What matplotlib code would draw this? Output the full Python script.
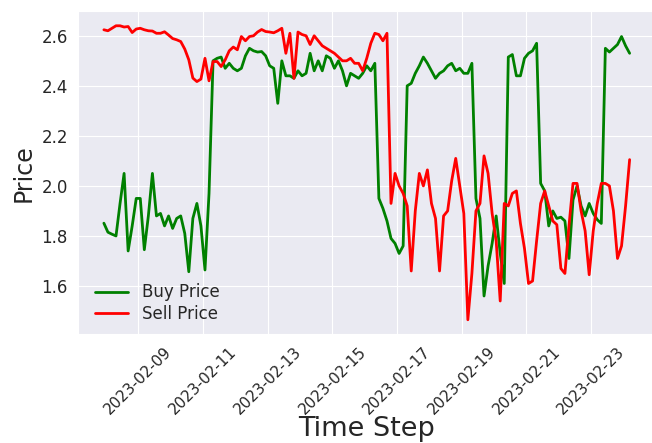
import matplotlib
matplotlib.use('Agg')
import matplotlib.pyplot as plt
import matplotlib.dates as mdates
import numpy as np
import pandas as pd
import seaborn as sns

sns.set_style('darkgrid')

# 3-hourly samples
start = '2023-02-07 22:30'
step = '3h'

buy_price = [1.851, 1.815, 1.807, 1.800, 1.930, 2.050, 1.740, 1.840, 1.950, 1.950,
             1.745, 1.880, 2.050, 1.880, 1.890, 1.840, 1.880, 1.830, 1.870, 1.880,
             1.810, 1.657, 1.870, 1.930, 1.840, 1.664, 1.970, 2.500, 2.510, 2.515,
             2.470, 2.490, 2.470, 2.460, 2.470, 2.520, 2.550, 2.540, 2.535, 2.537,
             2.520, 2.480, 2.470, 2.330, 2.500, 2.440, 2.440, 2.430, 2.460, 2.440,
             2.450, 2.530, 2.460, 2.500, 2.460, 2.520, 2.510, 2.470, 2.500, 2.460,
             2.400, 2.450, 2.440, 2.430, 2.450, 2.480, 2.460, 2.490, 1.950, 1.910,
             1.860, 1.790, 1.770, 1.730, 1.760, 2.400, 2.410, 2.450, 2.480, 2.515,
             2.490, 2.460, 2.430, 2.450, 2.460, 2.480, 2.490, 2.460, 2.470, 2.450,
             2.450, 2.490, 1.950, 1.870, 1.560, 1.680, 1.770, 1.880, 1.730, 1.610,
             2.515, 2.525, 2.440, 2.440, 2.510, 2.530, 2.540, 2.570, 2.010, 1.980,
             1.840, 1.900, 1.870, 1.875, 1.860, 1.710, 1.944, 2.000, 1.920, 1.880,
             1.930, 1.890, 1.865, 1.850, 2.550, 2.535, 2.550, 2.565, 2.597, 2.560,
             2.530]

sell_price = [2.624, 2.620, 2.630, 2.640, 2.640, 2.635, 2.637, 2.613, 2.627, 2.630,
              2.624, 2.620, 2.619, 2.610, 2.610, 2.616, 2.603, 2.589, 2.584, 2.577,
              2.547, 2.504, 2.431, 2.417, 2.427, 2.510, 2.420, 2.497, 2.497, 2.477,
              2.504, 2.540, 2.555, 2.544, 2.597, 2.580, 2.597, 2.600, 2.615, 2.625,
              2.617, 2.615, 2.612, 2.620, 2.630, 2.530, 2.610, 2.430, 2.615, 2.605,
              2.600, 2.565, 2.600, 2.580, 2.560, 2.550, 2.540, 2.530, 2.515, 2.500,
              2.500, 2.510, 2.490, 2.490, 2.460, 2.510, 2.570, 2.610, 2.605, 2.580,
              2.610, 1.930, 2.050, 2.000, 1.970, 1.920, 1.660, 1.900, 2.050, 2.000,
              2.064, 1.930, 1.870, 1.660, 1.880, 1.900, 2.020, 2.110, 2.000, 1.890,
              1.465, 1.650, 1.900, 1.930, 2.120, 2.050, 1.890, 1.780, 1.540, 1.930,
              1.920, 1.970, 1.980, 1.850, 1.750, 1.610, 1.620, 1.780, 1.930, 1.980,
              1.920, 1.860, 1.845, 1.670, 1.650, 1.840, 2.010, 2.010, 1.900, 1.820,
              1.645, 1.820, 1.930, 2.010, 2.010, 2.000, 1.900, 1.710, 1.760, 1.920,
              2.105]

tick_days = [9, 11, 13, 15, 17, 19, 21, 23]

times = pd.date_range(start=start, periods=len(buy_price), freq=step)

fig = plt.figure(figsize=(6.52, 4.43), dpi=100)
ax = fig.add_axes([0.119, 0.245, 0.887, 0.730])

ax.plot(times, buy_price, color='green', lw=2, label='Buy Price')
ax.plot(times, sell_price, color='red', lw=2, label='Sell Price')

ax.xaxis.set_major_locator(mdates.DayLocator(bymonthday=tick_days))
ax.xaxis.set_major_formatter(mdates.DateFormatter('%Y-%m-%d'))
plt.xticks(rotation=45, fontsize=11)
plt.yticks(fontsize=12)

ax.set_xlabel('Time Step', fontsize=19.5, labelpad=-1)
ax.set_ylabel('Price', fontsize=17)
ax.legend(loc='lower left', bbox_to_anchor=(0.01, 0.0), fontsize=12,
          frameon=False, labelspacing=0.2, borderaxespad=0.3)

fig.savefig('out.png', dpi=100)
